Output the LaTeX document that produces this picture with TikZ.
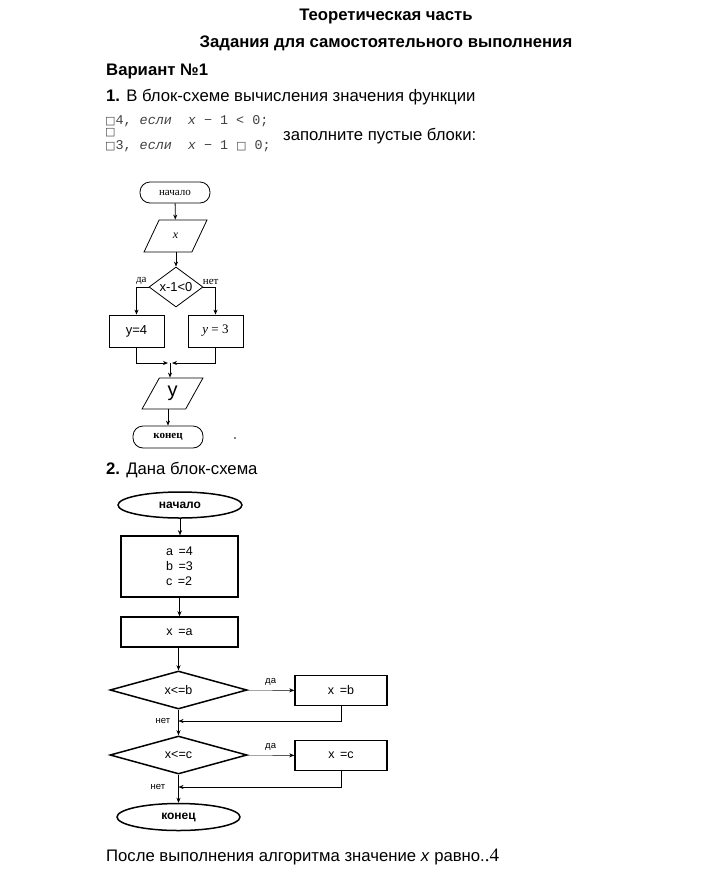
\documentclass[tikz,border=0pt]{standalone}
\usepackage{fontspec}
\setmainfont{Liberation Sans}
\newfontfamily\serif{Liberation Serif}
\newfontfamily\mono{Liberation Mono}
\newfontfamily\symb{DejaVu Sans}
\usetikzlibrary{arrows.meta, shapes.geometric}
\usetikzlibrary{positioning}

\begin{document}
\begin{tikzpicture}[x=1pt, y=-1pt, >={Stealth[length=5pt, width=4pt]},
	every node/.style={inner sep=0pt},
	txt/.style={font=\fontsize{16.7}{19}\selectfont},
	func/.style={font=\mono\fontsize{13.4}{15}\selectfont, text=black!75, anchor=west},
	term/.style={draw, thick, rounded corners=10pt, font=\serif\fontsize{11}{13}\selectfont},
	blk/.style={draw, thick, minimum width=55, minimum height=32},
	para/.style={draw, thick, trapezium, trapezium left angle=66, trapezium right angle=114, trapezium stretches=true},
	rhomb/.style={draw, thick, diamond, aspect=1.35},
	lab/.style={font=\serif\fontsize{11}{13}\selectfont},
	oval/.style={draw, line width=1.5pt, ellipse, font=\bfseries\fontsize{12}{14}\selectfont},
	box/.style={draw, line width=1.5pt, minimum width=117, font=\fontsize{12.5}{15}\selectfont},
	rbox/.style={draw, line width=1.5pt, minimum width=92, minimum height=30, font=\fontsize{12.5}{15}\selectfont},
	cond/.style={draw, line width=1.5pt, diamond, minimum width=137, minimum height=38, font=\fontsize{12.5}{15}\selectfont},
	small/.style={font=\fontsize{9.5}{11}\selectfont}]

	\useasboundingbox (0,0) rectangle (720,887);

	% header
	\node[txt, font=\bfseries\fontsize{16.7}{19}\selectfont] (title) at (386,16) {Теоретическая часть};
	\node[txt, font=\bfseries\fontsize{16.7}{19}\selectfont] (subtitle) at (386,43) {Задания для самостоятельного выполнения};
	\node[txt, font=\bfseries\fontsize{16.7}{19}\selectfont, anchor=west] (variant) at (106,71) {Вариант №1};
	\node[txt, anchor=west] (task1) at (106,97) {\textbf{1.} В блок-схеме вычисления значения функции};
	\node[func] (line1) at (105,121) {{\symb\fontsize{11}{12}\selectfont □}4, \textit{если}\ \ \textit{x} − 1 < 0;};
	\node[func] (line2) at (105,133) {{\symb\fontsize{11}{12}\selectfont □}};
	\node[func] (line3) at (105,146) {{\symb\fontsize{11}{12}\selectfont □}3, \textit{если}\ \ \textit{x} − 1 {\symb\fontsize{11}{12}\selectfont □} 0;};
	\node[txt, anchor=west] (fill) at (283,136) {заполните пустые блоки:};

	% first flowchart
	\begin{scope}
		\node[term, minimum width=70, minimum height=21] (start1) at (175,192.5) {начало};
		\node[para, minimum width=63, minimum height=32, font=\serif\itshape\fontsize{12}{14}\selectfont] (inx) at (175.5,236) {x};
		\node[rhomb, minimum width=54, minimum height=40, font=\fontsize{13}{15}\selectfont] (cond1) at (176,287) {x-1<0};
		\node[blk, font=\fontsize{13}{15}\selectfont] (y4) at (136.5,331) {y=4};
		\node[blk, font=\serif\fontsize{13}{15}\selectfont] (y3) at (215.5,331) {\textit{y} = 3};
		\coordinate (m1) at (170,363);
		\node[para, minimum width=61, minimum height=31, font=\fontsize{20}{22}\selectfont] (outy) at (172.5,393.5) {y};
		\node[term, minimum width=70, minimum height=22, font=\serif\bfseries\fontsize{11}{13}\selectfont] (end1) at (168,437) {конец};

		\draw[thick, ->] (start1) -- (inx);
		\draw[thick, ->] (inx.south -| cond1.north) -- (cond1);
		\draw[thick, ->] (cond1.west) -| node[lab, pos=0.3, above=2pt] (yes1) {да} (y4.north);
		\draw[thick, ->] (cond1.east) -| node[lab, pos=0.3, above=2pt] (no1) {нет} (y3.north);
		\draw[thick, ->] (y4.south) |- ([xshift=-2pt]m1);
		\draw[thick, ->] (y3.south) |- ([xshift=2pt]m1);
		\draw[thick, ->] (m1) -- (m1 |- outy.north);
		\draw[thick, ->] (outy.south -| end1.north) -- (end1);
		\fill (235,438) circle (0.8);
	\end{scope}

	\node[txt, anchor=west] (task2) at (106,470) {\textbf{2.} Дана блок-схема};

	% second flowchart
	\begin{scope}
		\node[oval, minimum width=124, minimum height=26] (start2) at (180,505) {начало};
		\node[box, minimum height=61, align=left] (init) at (179.5,566.5) {a \,=4\\b \,=3\\c \,=2};
		\node[box, minimum height=30] (xa) at (179.5,632) {x \,=a};
		\node[cond] (c1) at (178.5,690) {x<=b};
		\node[rbox] (xb) at (341,690.5) {x \,=b};
		\coordinate (j1) at (178.5,721);
		\node[cond] (c2) at (178.5,755) {x<=c};
		\node[rbox] (xc) at (341,755.5) {x \,=c};
		\coordinate (j2) at (178.5,787);
		\node[oval, minimum width=123, minimum height=27] (end2) at (178.5,817) {конец};

		\draw[->] (start2) -- (init.north -| start2);
		\draw[->] (init) -- (xa);
		\draw[->] (xa.south -| c1.north) -- (c1);
		\draw[->] (c1) -- node[small, above=5pt] (yes2) {да} (xb);
		\draw[->] (xb.south) |- (j1);
		\draw[->] (c1) -- (c2);
		\node[small, left=8pt of j1] (no2) {нет};
		\draw[->] (c2) -- node[small, above=5pt] (yes3) {да} (xc);
		\draw[->] (xc.south) |- (j2);
		\draw[->] (c2) -- (end2);
		\node[small, left=13pt of j2] (no3) {нет};
	\end{scope}

	\node[txt, anchor=west] (answer) at (106,857) {После выполнения алгоритма значение \textit{x} равно.{\serif\fontsize{19}{20}\selectfont .4}};
\end{tikzpicture}
\end{document}
